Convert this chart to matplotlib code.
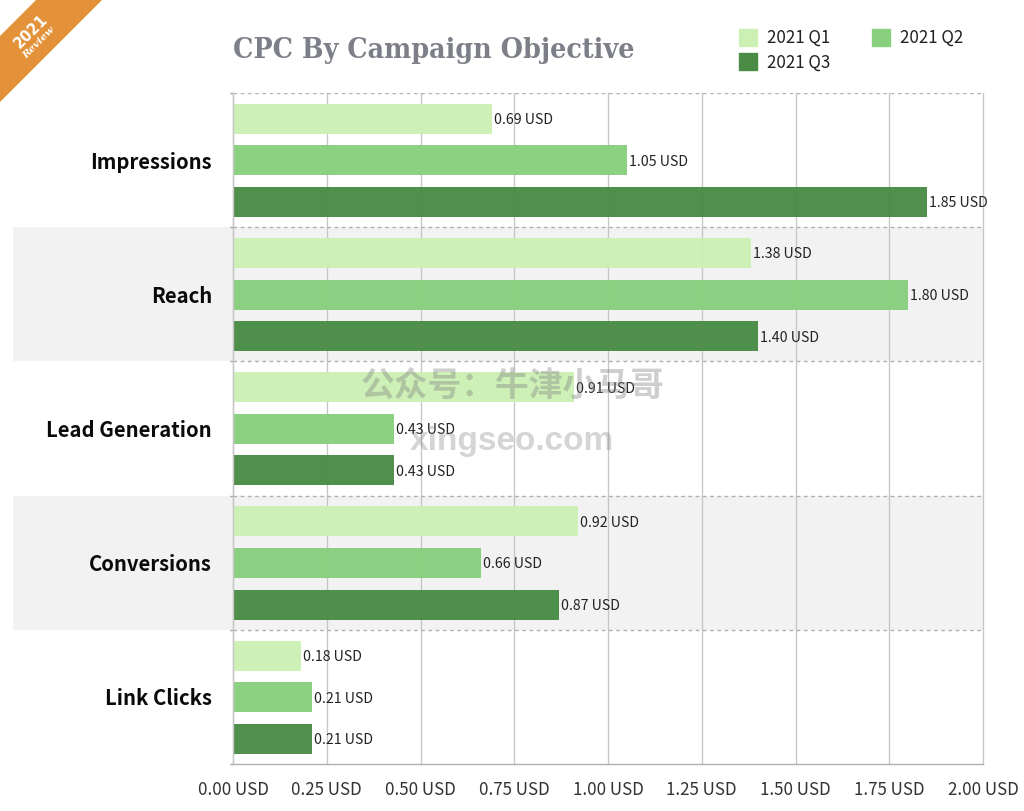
import matplotlib
matplotlib.use("Agg")
import matplotlib.pyplot as plt
from matplotlib.patches import Polygon, Patch
import numpy as np

plt.rcParams['font.family'] = ['Noto Sans CJK SC', 'DejaVu Sans']

categories = ["Impressions", "Reach", "Lead Generation", "Conversions", "Link Clicks"]
series_names = ["2021 Q1", "2021 Q2", "2021 Q3"]
q1 = [0.69, 1.38, 0.91, 0.92, 0.18]
q2 = [1.05, 1.80, 0.43, 0.66, 0.21]
q3 = [1.85, 1.40, 0.43, 0.87, 0.21]
colors = ["#ccf0b4", "#88cf7e", "#4a8c46"]
x_ticks = [0, 0.25, 0.5, 0.75, 1.0, 1.25, 1.5, 1.75, 2.0]

W, H = 1024, 811
fig = plt.figure(figsize=(W / 100, H / 100), dpi=100)
L, R, T, B = 233, 983, 93, 764
ax = fig.add_axes([L / W, 1 - B / H, (R - L) / W, (B - T) / H])
ax.set_xlim(0, 2)
ax.set_ylim(5, 0)

# alternating bands
for i in (1, 3):
    ax.axhspan(i, i + 1, xmin=-(L - 13) / (R - L), xmax=1, color="#f2f2f2",
               lw=0, zorder=0, clip_on=False)

# vertical grid
ax.set_xticks(x_ticks)
ax.set_xticklabels([f"{v:.2f} USD" for v in x_ticks], fontsize=12.2, color="#333333")
ax.grid(axis="x", color="#c6c6c6", lw=0.95, zorder=1)
for gl in ax.get_xgridlines():
    gl.set_clip_on(False)
ax.set_axisbelow(True)

# bars
y = np.arange(len(categories)) + 0.5
step = 41.5 / 134
bar_h = 30 / 134
nudge = 0.3 / 134
for k, (vals, c) in enumerate(zip([q1, q2, q3], colors)):
    pos = y + (k - 1) * step + nudge
    ax.barh(pos, vals, height=bar_h, color=c, edgecolor="none", alpha=0.97, zorder=2)
    for p, v in zip(pos, vals):
        ax.annotate(f"{v:.2f} USD", (v, p), xytext=(1.6, -1.0), textcoords="offset points",
                    va="center", ha="left", fontsize=10.2, color="#222222", zorder=4)

# category boundaries
for b in range(0, 5):
    ax.axhline(b, color="#b0b0b0", lw=1, dashes=(2.6, 2.6), zorder=3)
ax.axhline(5, color="#b0b0b0", lw=1.0, zorder=3, clip_on=False)
ax.axvline(0, color="#c6c6c6", lw=0.95, zorder=3, clip_on=False)

for s in ax.spines.values():
    s.set_visible(False)
ax.tick_params(axis="x", length=0, pad=12)
ax.set_yticks(y)
ax.set_yticklabels(categories, fontsize=14.6, fontweight="bold", color="#0a0a0a")
ax.tick_params(axis="y", length=0, pad=15.2)
ax.set_yticks(np.arange(6), minor=True)
ax.tick_params(axis="y", which="minor", length=2.5, color="#a0a0a0", width=1)

# title
fig.text(233 / W, 1 - 51 / H, "CPC By Campaign Objective", fontsize=20.4, fontweight="bold",
         family="DejaVu Serif", stretch="condensed", color="#7c7f88", va="center", ha="left")

# legend (column-filled, so order gives Q1 Q2 / Q3 rows)
handles = [Patch(color=colors[0], label=series_names[0]),
           Patch(color=colors[2], label=series_names[2]),
           Patch(color=colors[1], label=series_names[1])]
fig.legend(handles=handles, ncol=2, frameon=False, fontsize=12.2, labelcolor="#222222",
           loc="upper left", bbox_to_anchor=(739 / W, 1 - 29 / H), borderaxespad=0, borderpad=0,
           handlelength=1.05, handleheight=1.15, handletextpad=0.6, columnspacing=2.47,
           labelspacing=0.36)

# corner ribbon
ribbon = [(36 / W, 1), (102 / W, 1), (0, 1 - 102 / H), (0, 1 - 36 / H)]
fig.add_artist(Polygon(ribbon, closed=True, transform=fig.transFigure, color="#e3923a", lw=0))
fig.text(31 / W, 1 - 31 / H, "2021", rotation=45, color="white", fontsize=10.5, fontweight="bold",
         ha="center", va="center", family="DejaVu Sans", rotation_mode="anchor")
fig.text(39 / W, 1 - 43 / H, "Review", rotation=45, color="white", fontsize=7.5, fontweight="bold",
         style="italic", ha="center", va="center", family="DejaVu Serif", rotation_mode="anchor")

# watermark
fig.text(513 / W, 1 - 385 / H, "公众号：牛津小马哥", fontsize=24.3, fontweight="bold",
         color="#808080", alpha=0.38, ha="center", va="center", zorder=10)
fig.text(512 / W, 1 - 442 / H, "xingseo.com", fontsize=24, fontweight="bold", family="Liberation Sans",
         color="#808080", alpha=0.33, ha="center", va="center", zorder=10)

fig.savefig("out.png", dpi=100)
